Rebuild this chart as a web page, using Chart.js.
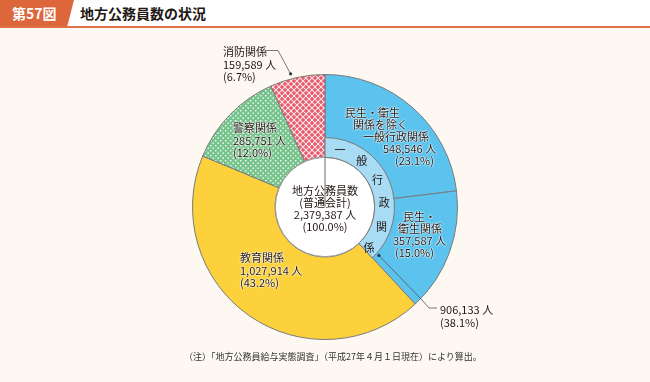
<!DOCTYPE html>
<html>
<head>
<meta charset="utf-8">
<script src="https://cdn.jsdelivr.net/npm/chart.js@4.4.0/dist/chart.umd.min.js"></script>
<style>
  body { margin: 0; background: #fdf8f1; font-family: "Noto Sans CJK JP", sans-serif; }
  #wrap { position: relative; width: 650px; height: 382px; overflow: hidden; }
  #head { position: absolute; left: 0; top: 0; width: 650px; height: 26px; background: #fff; border-bottom: 2px solid #e27245; }
  #tag { position: absolute; left: 0; top: 0; width: 74px; height: 26px; background: #dd663a;
         clip-path: polygon(0 0, 100% 0, 91% 100%, 0 100%); color: #fff; font-weight: bold; font-size: 14px; line-height: 26px; padding-left: 12px; box-sizing: border-box; }
  #title { position: absolute; left: 80px; top: 0; font-weight: bold; font-size: 14px; line-height: 27px; color: #231815; }
  canvas { position: absolute; left: 0; top: 0; }
  .lb { position: absolute; font-size: 11px; line-height: 12px; color: #231815; white-space: nowrap;
        text-shadow: 0 0 2px #fff, 0 0 2px #fff, 0 0 1px #fff; }
  .plain { text-shadow: none; }
  .ring { position: absolute; font-size: 11px; line-height: 12px; color: #231815; transform: translate(-50%, -50%); }
  #note { position: absolute; left: 184px; top: 351px; font-size: 9px; line-height: 12px; color: #333; white-space: nowrap; }
</style>
</head>
<body>
<div id="wrap">
  <div id="head"></div>
  <div id="tag">第57図</div>
  <div id="title">地方公務員数の状況</div>
  <canvas id="outer" width="650" height="382"></canvas>
  <canvas id="inner" width="650" height="382"></canvas>
  <div id="labels"></div>
  <div id="note">（注）「地方公務員給与実態調査」（平成27年４月１日現在）により算出。</div>
</div>
<script>
// outer ring: categories clockwise from 12 o'clock
const categories = ['民生・衛生関係を除く一般行政関係', '民生・衛生関係', '教育関係', '警察関係', '消防関係'];
const staffCounts = [548546, 357587, 1027914, 285751, 159589];
const shares = ['23.1', '15.0', '43.2', '12.0', '6.7'];

// inner ring: 一般行政関係 group
const groupName = '一般行政関係';
const groupCount = 906133;
const groupShare = '38.1';

const totalCount = 2379387;
const totalShare = '100.0';

const fmt = n => n.toLocaleString('en-US');

function dotPattern(base) {
  const c = document.createElement('canvas');
  c.width = 5; c.height = 5;
  const x = c.getContext('2d');
  x.fillStyle = base; x.fillRect(0, 0, 5, 5);
  x.fillStyle = 'rgba(255,255,255,0.95)';
  x.fillRect(0, 0, 1.4, 1.4);
  x.fillRect(2.5, 2.5, 1.4, 1.4);
  return x.createPattern(c, 'repeat');
}

function checkPattern(base) {
  const c = document.createElement('canvas');
  c.width = 6; c.height = 6;
  const x = c.getContext('2d');
  x.fillStyle = base; x.fillRect(0, 0, 6, 6);
  x.strokeStyle = 'rgba(255,255,255,0.85)';
  x.lineWidth = 1.1;
  x.beginPath();
  x.moveTo(-1, -1); x.lineTo(7, 7);
  x.moveTo(7, -1); x.lineTo(-1, 7);
  x.stroke();
  return x.createPattern(c, 'repeat');
}

const COLORS = ['#5bc3ee', '#5bc3ee', '#fcd13c', dotPattern('#77c38c'), checkPattern('#e9596b')];

const CX = 325, CY = 207, R = 133, R_RING = 70, R_HOLE = 50;

const outerChart = new Chart(document.getElementById('outer'), {
  type: 'doughnut',
  data: {
    labels: categories,
    datasets: [{
      data: staffCounts,
      backgroundColor: COLORS,
      borderColor: '#7a7a7a',
      borderWidth: 1,
      hoverOffset: 0,
    }],
  },
  options: {
    responsive: false,
    animation: false,
    events: [],
    cutout: R_HOLE,
    layout: { padding: { left: CX - R, right: 650 - CX - R, top: CY - R, bottom: 382 - CY - R } },
    plugins: { legend: { display: false }, tooltip: { enabled: false } },
  },
});

// leader lines drawn on the top canvas
const leaders = {
  id: 'leaders',
  afterDraw(chart) {
    const ctx = chart.ctx;
    ctx.save();
    ctx.strokeStyle = '#555';
    ctx.fillStyle = '#333';
    ctx.lineWidth = 0.8;

    // 消防関係
    const red = outerChart.getDatasetMeta(0).data[4];
    const a1 = red.startAngle + (red.endAngle - red.startAngle) * 0.4;
    const d1 = [red.x + (red.outerRadius + 5) * Math.cos(a1), red.y + (red.outerRadius + 5) * Math.sin(a1)];
    ctx.beginPath();
    ctx.moveTo(265, 50.5); ctx.lineTo(278, 50.5); ctx.lineTo(d1[0], d1[1]);
    ctx.stroke();
    ctx.beginPath(); ctx.arc(d1[0], d1[1], 1.6, 0, Math.PI * 2); ctx.fill();

    // 一般行政関係 total
    const ring = chart.getDatasetMeta(0).data[0];
    const a2 = ring.endAngle - 0.09;
    const d2 = [ring.x + (ring.outerRadius + 3) * Math.cos(a2), ring.y + (ring.outerRadius + 3) * Math.sin(a2)];
    ctx.beginPath();
    ctx.moveTo(d2[0], d2[1]); ctx.lineTo(422, 300); ctx.lineTo(429, 308); ctx.lineTo(437, 308);
    ctx.stroke();
    ctx.beginPath(); ctx.arc(d2[0], d2[1], 1.6, 0, Math.PI * 2); ctx.fill();
    ctx.restore();
  },
};

const innerChart = new Chart(document.getElementById('inner'), {
  type: 'pie',
  data: {
    labels: [groupName, ''],
    datasets: [
      {
        data: [groupCount, totalCount - groupCount],
        backgroundColor: ['#a8dbf4', 'rgba(0,0,0,0)'],
        borderColor: ['#7a7a7a', 'rgba(0,0,0,0)'],
        borderWidth: [1, 0],
        weight: R_RING - R_HOLE,
        hoverOffset: 0,
      },
      {
        data: [totalCount],
        backgroundColor: ['#ffffff'],
        borderColor: '#9a9a9a',
        borderWidth: 1,
        weight: R_HOLE,
        hoverOffset: 0,
      },
    ],
  },
  options: {
    responsive: false,
    animation: false,
    events: [],
    layout: { padding: { left: CX - R_RING, right: 650 - CX - R_RING, top: CY - R_RING, bottom: 382 - CY - R_RING } },
    plugins: { legend: { display: false }, tooltip: { enabled: false } },
  },
  plugins: [leaders],
});

// text labels
const labelsEl = document.getElementById('labels');
function put(text, x, y, cls) {
  const d = document.createElement('div');
  d.className = 'lb' + (cls ? ' ' + cls : '');
  d.textContent = text;
  d.style.left = x + 'px';
  d.style.top = (y - 6) + 'px';
  labelsEl.appendChild(d);
  return d;
}
function putCenter(text, y) {
  const d = put(text, 0, y, 'plain');
  d.style.left = '0px'; d.style.width = (CX * 2) + 'px'; d.style.textAlign = 'center';
}

// 消防関係
put('消防関係', 223, 51, 'plain');
put(fmt(staffCounts[4]) + ' 人', 223, 63.5, 'plain');
put('(' + shares[4] + '%)', 223, 76, 'plain');
// 警察関係
put('警察関係', 233, 127);
put(fmt(staffCounts[3]) + ' 人', 233, 139.5);
put('(' + shares[3] + '%)', 233, 151.5);
// 一般行政 (民生・衛生を除く)
put('民生・衛生', 345, 112);
put('関係を除く', 353, 123.5);
put('一般行政関係', 363, 135.5);
put(fmt(staffCounts[0]) + ' 人', 383, 148);
put('(' + shares[0] + '%)', 395, 159.5);
// 民生・衛生関係
put('民生・', 403, 215.5);
put('衛生関係', 398, 228);
put(fmt(staffCounts[1]) + ' 人', 393, 240);
put('(' + shares[1] + '%)', 395, 252);
// 教育関係
put('教育関係', 240, 257);
put(fmt(staffCounts[2]) + ' 人', 240, 269.5);
put('(' + shares[2] + '%)', 240, 282);
// group total
put(fmt(groupCount) + ' 人', 440, 308.5, 'plain');
put('(' + groupShare + '%)', 440, 322, 'plain');
// center
putCenter('地方公務員数', 190);
putCenter('(普通会計)', 201.5);
putCenter(fmt(totalCount) + ' 人', 213.5);
putCenter('(' + totalShare + '%)', 225.5);

// vertical characters along the light-blue ring
const ringArc = innerChart.getDatasetMeta(0).data[0];
const span = ringArc.endAngle - ringArc.startAngle;
const rMid = (ringArc.innerRadius + ringArc.outerRadius) / 2;
[...groupName].forEach((ch, i) => {
  const a = ringArc.startAngle + span * (0.107 + i * 0.1715);
  const d = document.createElement('div');
  d.className = 'ring';
  d.textContent = ch;
  d.style.left = (ringArc.x + rMid * Math.cos(a)) + 'px';
  d.style.top = (ringArc.y + rMid * Math.sin(a)) + 'px';
  labelsEl.appendChild(d);
});
</script>
</body>
</html>
